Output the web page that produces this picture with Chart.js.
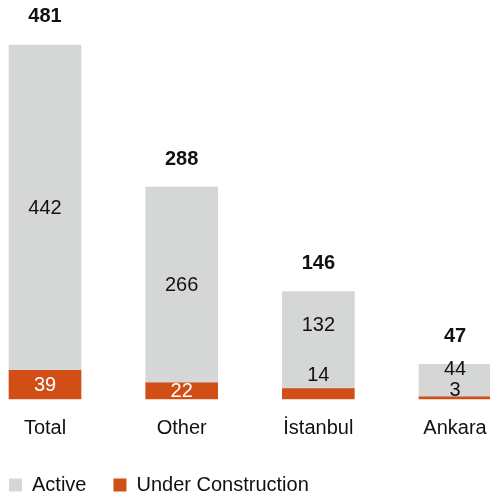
<!DOCTYPE html>
<html>
<head>
<meta charset="utf-8">
<script src="https://cdn.jsdelivr.net/npm/chart.js@4"></script>
<style>
  html, body { margin: 0; padding: 0; background: #fff; }
  #wrap { width: 490px; height: 495px; }
</style>
</head>
<body>
<div id="wrap"><canvas id="grafico"></canvas></div>
<script>
const categorias = ['Total', 'Other', 'İstanbul', 'Ankara']
const ativos = [442, 266, 132, 44]
const emConstrucao = [39, 22, 14, 3]
const totais = [481, 288, 146, 47]

const corAtivo = '#d5d6d6'
const corConstrucao = '#d14f17'
const fonte = "'Liberation Sans', Arial, Helvetica, sans-serif"

// rotulos dentro e acima das barras
const rotulos = {
  id: 'rotulos',
  afterDatasetsDraw(chart) {
    const ctx = chart.ctx
    const metaUC = chart.getDatasetMeta(0)
    const metaAt = chart.getDatasetMeta(1)
    ctx.save()
    ctx.textAlign = 'center'
    ctx.textBaseline = 'middle'
    categorias.forEach((c, i) => {
      const uc = metaUC.data[i]
      const at = metaAt.data[i]
      const h = uc.base - uc.y
      let limite
      ctx.font = '20px ' + fonte
      if (h >= 14) {
        // cabe dentro do segmento laranja
        ctx.fillStyle = '#ffffff'
        ctx.fillText(emConstrucao[i], uc.x, (uc.y + uc.base) / 2 + 1)
        limite = uc.y
      } else {
        // segmento fino: numero fica logo acima
        const yc = uc.y - (5 + 0.9 * h)
        ctx.fillStyle = '#111111'
        ctx.fillText(emConstrucao[i], uc.x, yc + 1)
        limite = yc - 17
      }
      ctx.fillStyle = '#111111'
      ctx.fillText(ativos[i], at.x, (at.y + limite) / 2 + 1)

      ctx.font = 'bold 20px ' + fonte
      ctx.fillText(totais[i], at.x, at.y - 28)
    })
    ctx.restore()
  }
}

new Chart(document.getElementById('grafico'), {
  type: 'bar',
  data: {
    labels: categorias,
    datasets: [{
      label: 'Under Construction',
      data: emConstrucao,
      backgroundColor: corConstrucao,
      barThickness: 72,
      clip: false
    }, {
      label: 'Active',
      data: ativos,
      backgroundColor: corAtivo,
      barThickness: 72,
      clip: false
    }]
  },
  options: {
    responsive: true,
    maintainAspectRatio: false,
    animation: false,
    layout: { padding: { top: 31, left: -18, right: 35, bottom: -10 } },
    plugins: {
      legend: {
        position: 'bottom',
        align: 'start',
        labels: {
          boxWidth: 13,
          boxHeight: 13,
          padding: 27,
          color: '#111111',
          font: { family: fonte, size: 20 },
          sort: (a, b) => b.datasetIndex - a.datasetIndex
        }
      },
      tooltip: { enabled: false }
    },
    scales: {
      x: {
        stacked: true,
        offset: false,
        grid: { display: false, drawTicks: false },
        border: { display: false },
        ticks: { color: '#111111', font: { family: fonte, size: 20 }, padding: 17, maxRotation: 0, autoSkip: false },
        afterFit: (s) => { s.height = 49; s.paddingLeft = 0; s.paddingRight = 0 }
      },
      y: {
        stacked: true,
        min: 0,
        max: 500,
        grid: { display: false, drawTicks: false },
        border: { display: false },
        ticks: { display: false },
        afterFit: (s) => { s.width = 63 }
      }
    }
  },
  plugins: [rotulos]
})
</script>
</body>
</html>
